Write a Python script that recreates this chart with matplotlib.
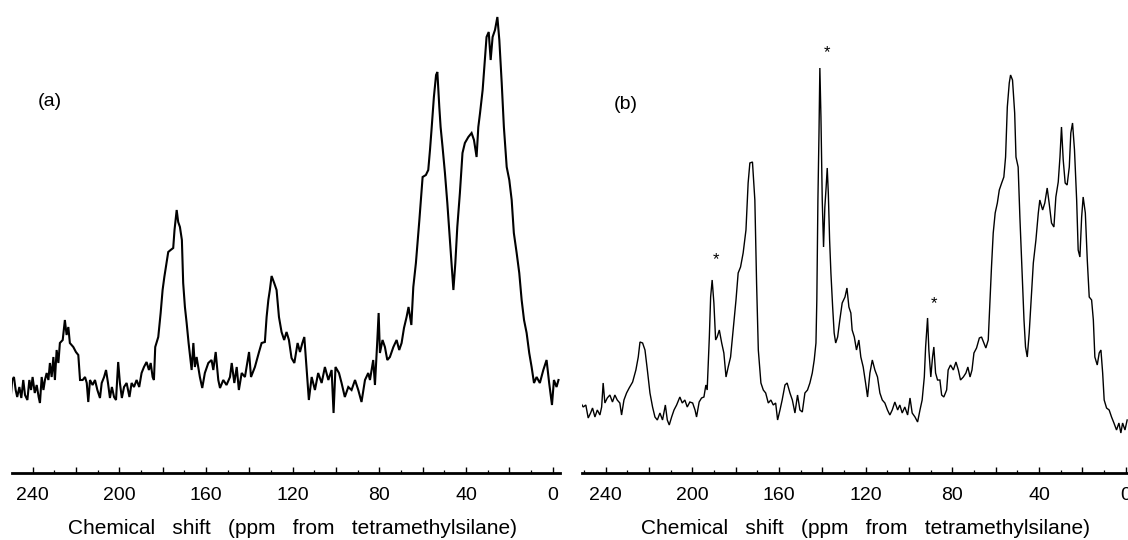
import matplotlib
matplotlib.use("Agg")
import matplotlib.pyplot as plt
from matplotlib.ticker import FixedLocator, MultipleLocator
import matplotlib.transforms as mtransforms

plt.rcParams["font.family"] = ["Liberation Sans", "DejaVu Sans"]

# 13C CP/MAS spectra, intensity in arbitrary units (0 = axis line)
ppm_a = [250.0, 249.4, 248.6, 247.8, 247.1, 246.1, 245.2, 244.3, 243.5, 242.4,
         241.5, 240.7, 240.0, 239.0, 238.1, 237.2, 236.6, 235.8, 235.0, 234.3,
         233.5, 232.7, 232.0, 231.2, 230.4, 229.7, 228.9, 228.1, 227.4, 226.1,
         225.1, 224.3, 223.5, 222.8, 221.2, 220.0, 218.9, 218.1, 216.9, 215.8,
         215.0, 214.3, 213.5, 212.3, 211.2, 210.1, 208.9, 208.1, 207.0, 206.1,
         205.2, 204.3, 203.4, 202.4, 201.5, 200.5, 199.7, 198.8, 197.8, 196.6,
         195.3, 194.3, 193.2, 192.0, 190.8, 189.7, 188.6, 187.4, 186.3, 185.5,
         184.6, 184.0, 183.4, 182.0, 180.9, 180.0, 179.2, 178.5, 177.4, 176.3,
         175.1, 174.5, 173.5, 172.8, 172.0, 171.1, 170.5, 169.7, 168.9, 168.0,
         167.4, 166.6, 165.8, 165.1, 164.3, 162.8, 161.7, 160.5, 158.9, 157.4,
         156.6, 155.5, 154.3, 153.5, 152.0, 150.5, 148.9, 148.1, 146.9, 145.8,
         144.8, 143.5, 142.0, 140.1, 139.2, 137.4, 135.5, 134.3, 132.8, 132.0,
         131.2, 130.5, 129.7, 128.5, 127.4, 126.3, 125.1, 123.9, 122.8, 121.7,
         120.5, 119.2, 117.7, 116.6, 115.5, 114.6, 113.5, 112.5, 111.2, 109.7,
         108.2, 106.6, 105.1, 103.5, 102.0, 101.1, 100.2, 98.6, 97.4, 95.9,
         94.3, 92.8, 91.2, 89.7, 88.2, 86.6, 85.1, 84.3, 82.8, 82.0,
         80.9, 80.3, 79.7, 78.5, 77.4, 76.3, 75.1, 73.5, 72.0, 70.8,
         69.7, 68.6, 67.4, 66.5, 65.2, 64.3, 63.1, 61.5, 60.0, 58.5,
         57.4, 56.6, 55.9, 54.8, 53.8, 53.2, 52.3, 51.7, 50.8, 49.7,
         48.6, 47.4, 45.8, 44.9, 44.0, 42.8, 41.6, 40.5, 38.9, 37.4,
         36.3, 35.1, 34.3, 33.5, 32.3, 31.2, 30.5, 29.5, 28.6, 27.7,
         26.6, 25.5, 24.6, 23.5, 22.5, 21.2, 20.0, 18.9, 17.9, 16.6,
         15.4, 14.3, 13.2, 12.0, 10.8, 9.7, 8.6, 7.4, 5.9, 4.3,
         2.8, 1.6, 0.3, -0.6, -1.8, -2.7]
int_a = [78, 93, 96, 83, 76, 86, 75, 93, 78, 73,
         93, 83, 96, 80, 88, 76, 70, 96, 83, 93,
         100, 93, 110, 96, 116, 93, 123, 110, 130, 133,
         153, 138, 146, 130, 126, 121, 118, 93, 93, 96,
         90, 71, 93, 88, 93, 83, 75, 90, 96, 103,
         90, 75, 86, 76, 73, 111, 90, 75, 86, 90,
         76, 90, 86, 93, 86, 100, 106, 111, 103, 110,
         96, 93, 126, 136, 160, 183, 196, 206, 221, 223,
         225, 243, 263, 251, 246, 233, 190, 166, 150, 130,
         118, 103, 130, 106, 116, 96, 85, 100, 110, 113,
         103, 121, 93, 85, 93, 88, 96, 110, 90, 106,
         83, 100, 96, 121, 96, 106, 121, 130, 131, 156,
         173, 183, 197, 190, 183, 156, 141, 133, 141, 133,
         115, 110, 130, 121, 130, 136, 103, 73, 96, 83,
         100, 90, 106, 93, 103, 60, 106, 100, 90, 76,
         86, 83, 93, 83, 71, 93, 100, 93, 113, 88,
         133, 160, 120, 133, 126, 113, 116, 126, 133, 123,
         130, 145, 156, 166, 148, 186, 210, 253, 296, 298,
         303, 323, 343, 376, 398, 401, 366, 346, 326, 300,
         270, 233, 183, 210, 246, 280, 320, 330, 336, 340,
         333, 316, 346, 360, 383, 416, 436, 441, 413, 436,
         443, 456, 433, 390, 346, 306, 293, 273, 240, 220,
         200, 173, 153, 140, 120, 106, 90, 96, 90, 103,
         113, 90, 68, 93, 86, 93]

ppm_b = [251.4, 250.3, 249.1, 248.0, 246.9, 246.0, 244.9, 243.8, 242.6, 241.8,
         241.1, 240.3, 239.2, 238.0, 236.8, 235.7, 234.6, 233.4, 232.6, 231.5,
         230.3, 229.1, 227.5, 226.0, 224.9, 224.1, 222.9, 221.8, 220.7, 219.5,
         218.3, 217.2, 216.1, 214.9, 213.7, 212.4, 211.5, 210.6, 209.5, 208.4,
         207.2, 205.7, 204.6, 203.4, 202.3, 201.1, 199.8, 198.7, 198.0, 196.8,
         195.7, 194.6, 193.7, 193.1, 192.1, 191.5, 190.8, 190.0, 189.2, 188.5,
         187.5, 186.4, 185.4, 184.4, 183.4, 182.3, 181.1, 179.8, 178.8, 177.7,
         176.5, 175.2, 174.2, 173.4, 172.2, 171.1, 170.3, 169.5, 168.3, 167.2,
         166.1, 164.9, 163.7, 162.6, 161.5, 160.6, 159.5, 158.5, 157.2, 156.2,
         154.9, 153.8, 152.6, 151.4, 150.3, 149.2, 148.0, 146.8, 145.7, 144.6,
         143.7, 142.9, 142.5, 142.0, 141.5, 141.1, 140.6, 140.0, 139.4, 138.8,
         138.2, 137.7, 137.2, 136.6, 136.0, 135.2, 134.5, 133.8, 132.9, 131.9,
         130.8, 129.5, 128.6, 127.7, 126.8, 126.2, 125.2, 124.2, 123.1, 122.2,
         121.1, 120.0, 119.1, 118.0, 116.9, 115.7, 114.5, 113.4, 112.3, 111.1,
         109.9, 108.8, 107.7, 106.5, 105.2, 104.2, 103.1, 101.9, 100.6, 99.5,
         98.5, 97.2, 96.0, 94.9, 93.9, 92.9, 92.3, 91.4, 90.8, 89.9,
         89.1, 88.5, 87.7, 86.8, 85.7, 84.9, 83.9, 82.6, 81.9, 80.8,
         79.5, 78.3, 77.2, 76.2, 74.9, 73.7, 72.8, 71.8, 70.9, 70.0,
         68.8, 67.5, 66.5, 65.4, 64.5, 63.4, 62.6, 61.9, 61.1, 60.2,
         59.2, 58.3, 57.2, 56.2, 55.4, 54.6, 53.7, 53.1, 52.2, 51.2,
         50.6, 49.6, 48.8, 47.9, 46.9, 46.2, 45.4, 44.5, 43.6, 42.6,
         41.4, 40.3, 39.6, 38.3, 37.3, 36.2, 35.3, 34.2, 33.1, 32.2,
         31.1, 30.3, 29.6, 28.8, 27.9, 27.0, 26.0, 25.3, 24.5, 23.6,
         22.6, 21.9, 21.1, 20.3, 19.6, 18.6, 17.7, 16.8, 15.7, 14.9,
         14.2, 13.1, 12.2, 11.4, 10.6, 9.9, 8.8, 7.6, 6.5, 5.4,
         4.2, 3.1, 2.2, 1.4, 0.3, -0.7]
int_b = [70, 66, 68, 55, 60, 65, 56, 63, 58, 66,
         90, 70, 75, 78, 71, 78, 73, 70, 58, 73,
         80, 85, 91, 103, 116, 131, 130, 123, 103, 80,
         66, 56, 53, 60, 53, 68, 53, 48, 56, 63,
         68, 76, 70, 73, 66, 71, 70, 63, 56, 71,
         75, 76, 88, 83, 136, 176, 193, 170, 133, 136,
         143, 130, 120, 96, 106, 116, 143, 173, 200, 206,
         220, 243, 290, 310, 311, 273, 190, 123, 90, 83,
         80, 70, 73, 68, 70, 53, 63, 73, 88, 90,
         80, 73, 60, 78, 63, 61, 80, 83, 90, 100,
         113, 130, 173, 273, 340, 405, 356, 273, 226, 266,
         286, 305, 280, 233, 200, 166, 140, 130, 136, 153,
         170, 176, 185, 166, 160, 143, 136, 123, 133, 116,
         106, 90, 76, 100, 113, 103, 96, 80, 73, 70,
         63, 58, 63, 71, 63, 68, 60, 66, 58, 75,
         60, 56, 51, 63, 73, 96, 126, 155, 123, 96,
         116, 126, 100, 93, 93, 78, 76, 83, 103, 108,
         103, 111, 103, 93, 96, 100, 106, 96, 103, 120,
         125, 135, 136, 130, 125, 133, 173, 206, 240, 260,
         270, 283, 290, 296, 316, 366, 390, 398, 393, 360,
         316, 306, 256, 206, 153, 126, 116, 140, 173, 210,
         233, 260, 273, 263, 270, 285, 270, 250, 246, 276,
         291, 316, 346, 313, 290, 288, 306, 340, 350, 323,
         273, 223, 216, 256, 276, 260, 213, 176, 173, 153,
         116, 108, 120, 123, 100, 73, 65, 63, 56, 50,
         43, 50, 40, 50, 43, 53]

# spinning side bands marked in (b)
star_ppm = [189.2, 138.0, 88.5]
star_int = [217, 424, 173]

tick_major = [240, 220, 200, 180, 160, 140, 120, 100, 80, 60, 40, 20, 0]
tick_labels = ["240", "", "200", "", "160", "", "120", "", "80", "", "40", "", "0"]
xlabel = "Chemical   shift   (ppm   from   tetramethylsilane)"

W, H = 1128, 540
fig = plt.figure(figsize=(W / 100, H / 100), dpi=100)


def panel(left_px, right_px, xlim, ppm, inten, tag, lw):
    ax = fig.add_axes([left_px / W, (H - 473) / H, (right_px - left_px) / W, 473 / H])
    ax.plot(ppm, inten, color="black", lw=lw, solid_joinstyle="miter")
    ax.set_xlim(*xlim)
    ax.set_ylim(0, 473)
    for s in ("top", "left", "right"):
        ax.spines[s].set_visible(False)
    ax.spines["bottom"].set_linewidth(2.0)
    ax.set_yticks([])
    ax.xaxis.set_major_locator(FixedLocator(tick_major))
    ax.set_xticklabels(tick_labels)
    ax.xaxis.set_minor_locator(MultipleLocator(10))
    ax.tick_params(axis="x", which="major", direction="in", length=4.5, width=1.0,
                   pad=10, labelsize=14)
    ax.tick_params(axis="x", which="minor", direction="in", length=2.2, width=0.9)
    trans = mtransforms.blended_transform_factory(ax.transData, fig.transFigure)
    ax.text(120, 1 - 528 / H, xlabel, transform=trans, ha="center", va="center",
            fontsize=15)
    fig.text(tag[1] / W, 1 - tag[2] / H, tag[0], ha="center", va="center", fontsize=14)
    ax.patch.set_visible(False)
    return ax


axa = panel(12, 560, (249.5, -3.4), ppm_a, int_a, ("(a)", 50, 102), 1.5)
axb = panel(581.7, 1133, (251.0, -3.4), ppm_b, int_b, ("(b)", 626, 104), 1.0)

for p, v in zip(star_ppm, star_int):
    axb.text(p, v - 4, "*", ha="center", va="center", fontsize=12)

fig.savefig("out.png", dpi=100)
